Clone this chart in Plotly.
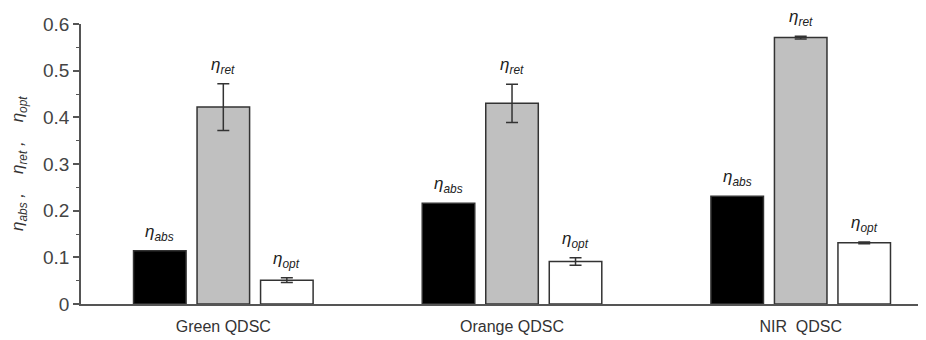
import plotly.graph_objects as go

categories = ["Green QDSC", "Orange QDSC", "NIR  QDSC"]
series_names = ["abs", "ret", "opt"]
eta_abs = [0.114, 0.216, 0.231]
eta_abs_err = [0.0, 0.0, 0.0]
eta_ret = [0.422, 0.430, 0.571]
eta_ret_err = [0.050, 0.041, 0.003]
eta_opt = [0.051, 0.091, 0.131]
eta_opt_err = [0.005, 0.008, 0.002]
ytick_vals = [0, 0.1, 0.2, 0.3, 0.4, 0.5, 0.6]
ytick_text = ["0", "0.1", "0.2", "0.3", "0.4", "0.5", "0.6"]
y_title = "<i>η<sub>abs</sub> ,    η<sub>ret</sub> ,    η<sub>opt</sub></i>"

values = [eta_abs, eta_ret, eta_opt]
errors = [eta_abs_err, eta_ret_err, eta_opt_err]
fills = ["#000000", "#c0c0c0", "#ffffff"]
xs = list(range(len(categories)))
step = 0.22
bw = 0.182

fig = go.Figure()
for j, (name, vals, errs, fc) in enumerate(zip(series_names, values, errors, fills)):
    off = (j - 1) * step - bw / 2
    show_err = any(e > 0 for e in errs)
    fig.add_trace(go.Bar(
        x=xs, y=vals, name=name, width=bw, offset=off,
        marker=dict(color=fc, line=dict(color="#333333", width=1.5)),
        error_y=dict(type="data", array=errs, visible=show_err,
                     color="#333333", thickness=1.5, width=6),
        showlegend=False,
    ))
    for i in xs:
        fig.add_annotation(
            x=i + (j - 1) * step, y=vals[i] + errs[i], xref="x", yref="y",
            text=f"<i>η<sub>{name}</sub></i>", showarrow=False,
            xanchor="center", yanchor="bottom", yshift=5,
            font=dict(family="Liberation Sans, Arial", size=17, color="#222222"),
        )

fig.add_annotation(
    x=0, xref="paper", xanchor="right", xshift=-49,
    y=0.3, yref="y", yanchor="middle", textangle=-90,
    text=y_title, showarrow=False,
    font=dict(family="Liberation Sans, Arial", size=17, color="#333333"),
)

# page body has an 8px default margin, so the figure is drawn 8px in from the corner
fig.update_layout(
    width=918, height=332,
    margin=dict(l=73, r=0, t=16, b=36),
    paper_bgcolor="white", plot_bgcolor="white",
    font=dict(family="Liberation Sans, Arial", color="#333333"),
)
fig.update_xaxes(
    range=[-0.493, 2.434], tickmode="array", tickvals=xs, ticktext=categories,
    showline=True, linecolor="#555555", linewidth=1.5, ticks="", showgrid=False,
    zeroline=False, tickfont=dict(size=16, color="#333333"), ticklabelstandoff=7,
    automargin=False,
)
fig.update_yaxes(
    range=[0, 0.6], tickmode="array", tickvals=ytick_vals, ticktext=ytick_text,
    showline=True, linecolor="#555555", linewidth=1.5, ticks="outside",
    ticklen=6, tickwidth=1.5, tickcolor="#555555", showgrid=False, zeroline=False,
    tickfont=dict(size=19, color="#444444"), automargin=False,
    minor=dict(tickvals=[0.05, 0.15, 0.25, 0.35, 0.45, 0.55], ticks="outside",
               ticklen=3, tickwidth=1.2, tickcolor="#555555", showgrid=False),
)

fig.write_html("out.html")
